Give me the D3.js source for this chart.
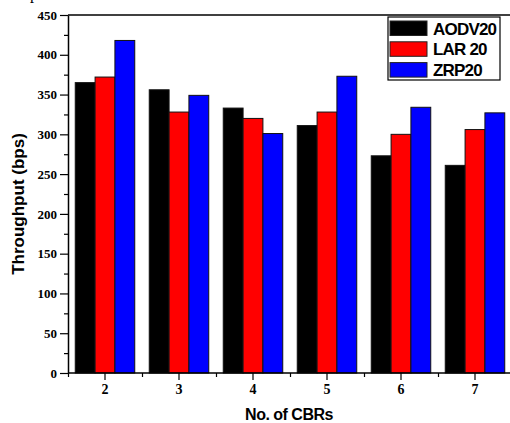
<!DOCTYPE html>
<html lang="en">
<head>
<meta charset="utf-8">
<title>Throughput vs CBRs</title>
<script src="https://cdnjs.cloudflare.com/ajax/libs/d3/7.8.5/d3.min.js"></script>
<style>
    body { margin: 0; background: #fff; }
    svg { display: block; }
    .tick text { font-family: "Liberation Serif", "Times New Roman", serif; font-weight: bold; fill: #000; }
    .title { font-family: "Liberation Sans", Arial, sans-serif; font-weight: bold; font-size: 16px; letter-spacing: -0.5px; }
</style>
</head>
<body>
<div id="chart"></div>
<script>
// data
var categories = ["2", "3", "4", "5", "6", "7"];
var seriesNames = ["AODV20", "LAR 20", "ZRP20"];
var aodv = [365, 356, 333, 311, 273, 261];
var lar = [372, 328, 320, 328, 300, 306];
var zrp = [418, 349, 301, 373, 334, 327];
var yTicks = [0, 50, 100, 150, 200, 250, 300, 350, 400, 450];

var colors = ["#000000", "#ff0000", "#0000ff"];
var series = [aodv, lar, zrp];

var W = 510, H = 423;
var plotL = 68, plotR = 512, plotT = 15, plotB = 373;

var svg = d3.select("#chart").append("svg")
    .attr("width", W)
    .attr("height", H);

// scales
var x = d3.scaleBand()
    .domain(categories)
    .range([plotL, plotR])
    .paddingInner(0.196)
    .paddingOuter(0.098);

var xSub = d3.scaleBand()
    .domain(d3.range(seriesNames.length))
    .range([0, x.bandwidth()]);

var xLin = d3.scaleLinear()
    .domain([1.5, 7.5])
    .range([plotL, plotR]);

var y = d3.scaleLinear()
    .domain([0, 450])
    .range([plotB, plotT]);

// bars
var groups = svg.selectAll("g.grp")
    .data(categories)
    .enter().append("g")
    .attr("class", "grp")
    .attr("transform", function(d) { return "translate(" + x(d) + ",0)"; });

groups.selectAll("rect")
    .data(function(d, i) {
        return series.map(function(s, j) { return {s: j, v: s[i]}; });
    })
    .enter().append("rect")
    .attr("x", function(d) { return xSub(d.s); })
    .attr("y", function(d) { return y(d.v); })
    .attr("width", xSub.bandwidth())
    .attr("height", function(d) { return y(0) - y(d.v); })
    .attr("fill", function(d) { return colors[d.s]; })
    .attr("stroke", "#111")
    .attr("stroke-width", 1);

// frame (top line; right side falls outside the picture)
svg.append("line")
    .attr("x1", plotL).attr("x2", plotR)
    .attr("y1", plotT).attr("y2", plotT)
    .attr("stroke", "#000").attr("stroke-width", 1.5);

// y axis: minor ticks then major ticks with labels
svg.append("g")
    .attr("transform", "translate(" + plotL + ",0)")
    .call(d3.axisLeft(y).tickValues(d3.range(25, 450, 50)).tickSize(4).tickFormat(""))
    .call(function(g) { g.select(".domain").remove(); })
    .selectAll("line").attr("stroke-width", 1.2);

var yAxis = svg.append("g")
    .attr("transform", "translate(" + plotL + ",0)")
    .call(d3.axisLeft(y).tickValues(yTicks).tickSize(8).tickPadding(3).tickSizeOuter(0));
yAxis.select(".domain").attr("stroke-width", 1.5);
yAxis.selectAll("line").attr("stroke-width", 1.2);
yAxis.selectAll(".tick text").style("font-size", "13px");

// x axis
svg.append("g")
    .attr("transform", "translate(0," + plotB + ")")
    .call(d3.axisBottom(xLin).tickValues(d3.range(1.5, 8, 1)).tickSize(4).tickFormat("").tickSizeOuter(0))
    .call(function(g) { g.select(".domain").remove(); })
    .selectAll("line").attr("stroke-width", 1.2);

var xAxis = svg.append("g")
    .attr("transform", "translate(0," + plotB + ")")
    .call(d3.axisBottom(x).tickSize(7).tickPadding(4).tickSizeOuter(0));
xAxis.select(".domain").attr("stroke-width", 1.5).attr("d", "M" + plotL + ",0H" + plotR);
xAxis.selectAll("line").attr("stroke-width", 1.2);
xAxis.selectAll(".tick text").style("font-size", "14px");

// axis titles
svg.append("text")
    .attr("class", "title")
    .attr("x", 289)
    .attr("y", 420)
    .attr("text-anchor", "middle")
    .text("No. of CBRs");

svg.append("text")
    .attr("class", "title")
    .attr("transform", "translate(24,204) rotate(-90)")
    .attr("text-anchor", "middle")
    .style("font-size", "17px")
    .style("letter-spacing", "0px")
    .text("Throughput (bps)");

// cropped caption fragment at the very top
svg.append("text")
    .attr("x", 30)
    .attr("y", -1)
    .attr("font-family", "Liberation Serif, serif")
    .attr("font-size", 16)
    .text("p");

// legend
var legend = svg.append("g").attr("transform", "translate(388,17)");
legend.append("rect")
    .attr("width", 112).attr("height", 63)
    .attr("fill", "#fff").attr("stroke", "#000").attr("stroke-width", 1.2);

var items = legend.selectAll("g.item")
    .data(seriesNames)
    .enter().append("g")
    .attr("class", "item")
    .attr("transform", function(d, i) { return "translate(2," + (4 + i * 20.8) + ")"; });

items.append("rect")
    .attr("width", 37).attr("height", 14.5)
    .attr("fill", function(d, i) { return colors[i]; })
    .attr("stroke", "#222").attr("stroke-width", 1);

items.append("text")
    .attr("class", "title")
    .attr("x", 43)
    .attr("y", 13.5)
    .style("font-size", "17px")
    .style("letter-spacing", "-0.8px")
    .text(function(d) { return d; });
</script>
</body>
</html>
